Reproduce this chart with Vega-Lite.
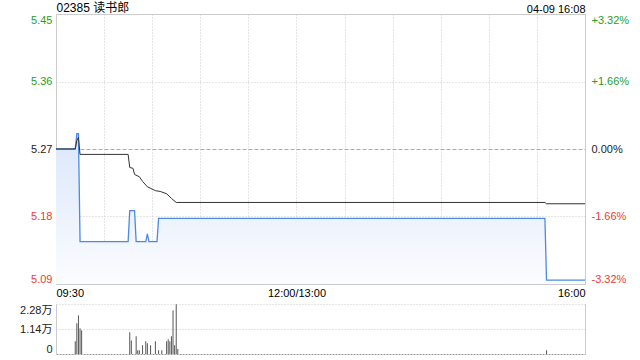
{
  "$schema": "https://vega.github.io/schema/vega-lite/v6.json",
  "padding": 0,
  "spacing": 4,
  "background": "white",
  "config": {
    "font": "Liberation Sans, 'Noto Sans CJK SC', sans-serif",
    "view": {"stroke": "#cccccc"},
    "axis": {"labelFontSize": 11, "labelFont": "Liberation Sans, 'Noto Sans CJK SC', sans-serif", "titleFont": "Liberation Sans, 'Noto Sans CJK SC', sans-serif"}
  },
  "datasets": {
    "price": [
      {"t": 0, "p": 5.27}, {"t": 12, "p": 5.27}, {"t": 13, "p": 5.29}, {"t": 14, "p": 5.29},
      {"t": 15, "p": 5.15}, {"t": 45, "p": 5.15}, {"t": 46, "p": 5.19}, {"t": 49, "p": 5.19},
      {"t": 50, "p": 5.15}, {"t": 56, "p": 5.15}, {"t": 57, "p": 5.16}, {"t": 58, "p": 5.15},
      {"t": 63, "p": 5.15}, {"t": 64, "p": 5.18}, {"t": 305, "p": 5.18}, {"t": 306, "p": 5.10},
      {"t": 330, "p": 5.10}
    ],
    "avg": [
      {"t": 0, "a": 5.27}, {"t": 12, "a": 5.27}, {"t": 13, "a": 5.281}, {"t": 14, "a": 5.285},
      {"t": 15, "a": 5.263}, {"t": 45, "a": 5.263}, {"t": 46, "a": 5.246}, {"t": 48, "a": 5.245},
      {"t": 49, "a": 5.237}, {"t": 52, "a": 5.234}, {"t": 54, "a": 5.228}, {"t": 57, "a": 5.221},
      {"t": 59, "a": 5.219}, {"t": 62, "a": 5.216}, {"t": 65, "a": 5.215}, {"t": 69, "a": 5.212},
      {"t": 72, "a": 5.206}, {"t": 75, "a": 5.2007}, {"t": 305, "a": 5.2007}, {"t": 306, "a": 5.199},
      {"t": 330, "a": 5.199}
    ],
    "vol": [
      {"t": 12, "v": 5800}, {"t": 13, "v": 14000}, {"t": 14, "v": 17600}, {"t": 15, "v": 11700},
      {"t": 16, "v": 10800}, {"t": 46, "v": 9900}, {"t": 47, "v": 6200}, {"t": 50, "v": 8100},
      {"t": 51, "v": 1700}, {"t": 52, "v": 1700}, {"t": 54, "v": 4000}, {"t": 56, "v": 5800},
      {"t": 57, "v": 4900}, {"t": 59, "v": 4000}, {"t": 62, "v": 5800}, {"t": 64, "v": 1700},
      {"t": 66, "v": 1700}, {"t": 69, "v": 5800}, {"t": 70, "v": 6700}, {"t": 71, "v": 5800},
      {"t": 72, "v": 8100}, {"t": 73, "v": 19900}, {"t": 74, "v": 4000}, {"t": 75, "v": 22700},
      {"t": 76, "v": 2300}, {"t": 306, "v": 1700}
    ]
  },
  "vconcat": [
    {
      "width": 529,
      "height": 270,
      "encoding": {
        "x": {
          "field": "t", "type": "quantitative",
          "scale": {"domain": [0, 330], "nice": false, "zero": false},
          "axis": {
            "values": [0, 30, 60, 90, 120, 150, 180, 210, 240, 270, 300, 330],
            "labelExpr": "datum.value == 0 ? '09:30' : datum.value == 150 ? '12:00/13:00' : datum.value == 330 ? '16:00' : ''",
            "labelFlush": true, "labelOverlap": false, "ticks": false, "domain": false,
            "grid": true, "gridColor": "#cccccc", "gridDash": [1, 2],
            "labelPadding": 3, "labelColor": "#000000", "title": null
          }
        }
      },
      "layer": [
        {
          "encoding": {
            "y": {
              "field": "p", "type": "quantitative",
              "scale": {"domain": [5.095, 5.445], "nice": false, "zero": false},
              "axis": {
                "values": [5.095, 5.1825, 5.27, 5.3575, 5.445],
                "labelExpr": "format(datum.value, '.2f')",
                "labelFlush": true, "ticks": false, "domain": false, "labelPadding": 4,
                "labelColor": {"condition": [{"test": "datum.value > 5.2701", "value": "#1fa01f"}, {"test": "datum.value < 5.2699", "value": "#f03a3a"}], "value": "#222222"},
                "grid": true,
                "gridColor": {"condition": {"test": "abs(datum.value - 5.27) < 0.0001", "value": "#aaaaaa"}, "value": "#cccccc"},
                "gridDash": {"condition": {"test": "abs(datum.value - 5.27) < 0.0001", "value": [4, 2]}, "value": [1, 2]},
                "minExtent": 55, "maxExtent": 55,
                "title": "02385 读书郎", "titleAngle": 0, "titleX": 0, "titleY": 0,
                "titleAlign": "left", "titleBaseline": "bottom", "titleFontSize": 12,
                "titleFontWeight": "normal", "titleColor": "#000000"
              }
            }
          },
          "layer": [
            {
              "data": {"name": "price"},
              "mark": {
                "type": "area",
                "fill": {"gradient": "linear", "x1": 0, "y1": 0, "x2": 0, "y2": 1,
                  "stops": [{"offset": 0, "color": "#dbe7fa"}, {"offset": 1, "color": "#fbfcff"}]}
              },
              "encoding": {"y2": {"datum": 5.095}}
            },
            {
              "data": {"values": [{"label": "sina.com"}]},
              "mark": {"type": "text", "color": "#c8c8c8", "fontSize": 11, "align": "center", "baseline": "middle"},
              "encoding": {
                "x": {"datum": 310, "type": "quantitative"},
                "y": {"datum": 5.102, "type": "quantitative"},
                "text": {"field": "label"}
              }
            },
            {
              "data": {"name": "price"},
              "mark": {"type": "line", "color": "#4a8ae6", "strokeWidth": 1.3},
              "encoding": {}
            }
          ]
        },
        {
          "data": {"name": "avg"},
          "mark": {"type": "line", "color": "#333333", "strokeWidth": 1},
          "encoding": {
            "y": {
              "field": "a", "type": "quantitative",
              "scale": {"domain": [5.095, 5.445], "nice": false, "zero": false},
              "axis": {
                "orient": "right",
                "values": [5.095, 5.1825, 5.27, 5.3575, 5.445],
                "labelExpr": "(datum.value > 5.2701 ? '+' : datum.value < 5.2699 ? '-' : '') + format(abs(datum.value - 5.27) / 5.27 * 100, '.2f') + '%'",
                "labelFlush": true, "ticks": false, "domain": false, "grid": false, "labelPadding": 6,
                "labelColor": {"condition": [{"test": "datum.value > 5.2701", "value": "#1fa01f"}, {"test": "datum.value < 5.2699", "value": "#f03a3a"}], "value": "#222222"},
                "title": "04-09 16:08", "titleAngle": 0, "titleX": 0, "titleY": 0,
                "titleAlign": "right", "titleBaseline": "bottom", "titleFontSize": 11,
                "titleFontWeight": "normal", "titleColor": "#000000"
              }
            }
          }
        }
      ],
      "resolve": {"scale": {"y": "independent"}}
    },
    {
      "width": 529,
      "height": 50,
      "view": {"stroke": null},
      "layer": [
        {
          "data": {"name": "vol"},
          "mark": {"type": "rule", "color": "#555555", "strokeWidth": 1},
          "encoding": {
            "x": {"field": "t", "type": "quantitative", "scale": {"domain": [0, 330], "nice": false, "zero": false}, "axis": null},
            "y": {
              "field": "v", "type": "quantitative",
              "scale": {"domain": [0, 22800], "nice": false},
              "axis": {
                "values": [0, 11400, 22800],
                "labelExpr": "datum.value == 0 ? '0' : format(datum.value / 10000, '.2f') + '万'",
                "labelFlush": true, "ticks": false, "domain": true, "domainColor": "#cccccc",
                "labelPadding": 4, "labelColor": "#222222",
                "grid": true,
                "gridColor": {"condition": {"test": "datum.value == 0", "value": "#999999"}, "value": "#cccccc"},
                "gridDash": {"condition": {"test": "datum.value == 0", "value": [2, 1]}, "value": [1, 2]},
                "minExtent": 55, "maxExtent": 55, "title": null
              }
            },
            "y2": {"datum": 0}
          }
        },
        {
          "data": {"name": "vol"},
          "mark": {"type": "rule", "opacity": 0},
          "encoding": {
            "x": {"field": "t", "type": "quantitative", "scale": {"domain": [0, 330], "nice": false, "zero": false}, "axis": null},
            "y": {
              "field": "v", "type": "quantitative",
              "scale": {"domain": [0, 22800], "nice": false},
              "axis": {"orient": "right", "labels": false, "ticks": false, "grid": false, "domain": true, "domainColor": "#cccccc", "title": null}
            }
          }
        }
      ],
      "resolve": {"scale": {"y": "independent"}}
    }
  ]
}
